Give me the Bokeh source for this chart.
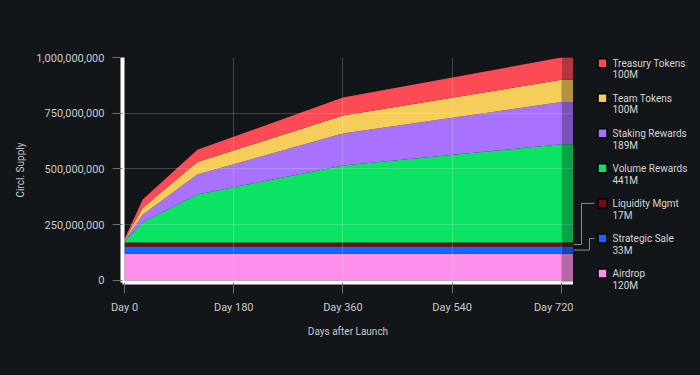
from bokeh.plotting import figure
from bokeh.layouts import row
from bokeh.models import (ColumnDataSource, Range1d, FixedTicker, NumeralTickFormatter,
                          BoxAnnotation)
from bokeh.core.properties import value
from bokeh.embed import file_html
from bokeh.resources import INLINE

# ---------------- data ----------------
days = [0, 30, 120, 360, 720, 740]
airdrop = [120e6, 120e6, 120e6, 120e6, 120e6, 120e6]
strategic_sale = [33e6, 33e6, 33e6, 33e6, 33e6, 33e6]
liquidity_mgmt = [17e6, 17e6, 17e6, 17e6, 17e6, 17e6]
volume_rewards = [4e6, 91e6, 216e6, 346e6, 441e6, 441e6]
staking_rewards = [4e6, 34e6, 89e6, 143e6, 189e6, 189e6]
team_tokens = [4e6, 31e6, 56e6, 81e6, 100e6, 100e6]
treasury_tokens = [4e6, 37e6, 55e6, 81e6, 100e6, 100e6]
full_unlock_day = 720

series_names = ["Airdrop", "Strategic Sale", "Liquidity Mgmt", "Volume Rewards",
                "Staking Rewards", "Team Tokens", "Treasury Tokens"]
series_values = [airdrop, strategic_sale, liquidity_mgmt, volume_rewards,
                 staking_rewards, team_tokens, treasury_tokens]
series_colors = ["#ff8fea", "#1565ff", "#7a0c10", "#0be463",
                 "#a872ff", "#f5cd5b", "#fd4b55"]
x_ticks = [0, 180, 360, 540, 720]
y_ticks = [0, 250e6, 500e6, 750e6, 1000e6]
leader_series = ["Liquidity Mgmt", "Strategic Sale"]

# ---------------- style / layout ----------------
BG = "#131619"
TXT = "#c8c9ca"
FONT = "Roboto"
FS = "11px"
FS_LABEL = "10px"
FR_LEFT = 122
FR_TOP = 57
FR_BOTTOM_MARGIN = 68
FR_H = 225
H = FR_TOP + FR_H + FR_BOTTOM_MARGIN
W1 = 573
W2 = 127
YMAX = y_ticks[-1]
YS, YE = -9e6, YMAX

keys = ["s%d" % i for i in range(len(series_names))]
data = {"day": days}
for k, v in zip(keys, series_values):
    data[k] = v
source = ColumnDataSource(data)

p = figure(width=W1, height=H, output_backend="svg", toolbar_location=None,
           x_range=Range1d(-3.3, days[-1]), y_range=Range1d(YS, YE),
           min_border_left=FR_LEFT, min_border_right=0, min_border_top=FR_TOP,
           min_border_bottom=FR_BOTTOM_MARGIN)
p.background_fill_color = BG
p.border_fill_color = BG
p.outline_line_color = None

p.varea_stack(stackers=keys, x="day", color=series_colors, source=source)

p.add_layout(BoxAnnotation(left=full_unlock_day, right=days[-1],
                           fill_color="black", fill_alpha=0.28, line_color=None))

p.xaxis.ticker = FixedTicker(ticks=x_ticks)
p.xaxis.major_label_overrides = {t: "Day %d" % t for t in x_ticks}
p.yaxis.ticker = FixedTicker(ticks=y_ticks)
p.yaxis.formatter = NumeralTickFormatter(format="0,0")
p.xgrid.ticker = FixedTicker(ticks=x_ticks[1:])
p.ygrid.ticker = FixedTicker(ticks=y_ticks[1:])
p.grid.grid_line_color = "white"
p.grid.grid_line_alpha = 0.2
p.grid.level = "annotation"

for ax in (p.xaxis, p.yaxis):
    ax.axis_line_color = "white"
    ax.axis_line_width = 4
    ax.major_tick_line_color = "#6a6d70"
    ax.minor_tick_line_color = None
    ax.major_tick_in = 0
    ax.major_label_text_color = TXT
    ax.major_label_text_font = FONT
    ax.major_label_text_font_size = FS
    ax.axis_label_text_color = TXT
    ax.axis_label_text_font = FONT
    ax.axis_label_text_font_size = FS_LABEL
    ax.axis_label_text_font_style = "normal"

p.xaxis.axis_label = "Days after Launch"
p.yaxis.axis_label = "Circl. Supply"
p.xaxis.major_tick_out = 11
p.yaxis.major_tick_out = 10
p.xaxis.major_label_standoff = 7
p.yaxis.major_label_standoff = 8
p.xaxis.axis_label_standoff = 9
p.yaxis.axis_label_standoff = 7

# ---------------- legend panel ----------------
def px_to_supply(py):
    return YS + (FR_TOP + FR_H - py) / FR_H * (YE - YS)

lg = figure(width=W2, height=H, output_backend="svg", toolbar_location=None,
            x_range=Range1d(0, W2), y_range=Range1d(px_to_supply(H), px_to_supply(0)),
            min_border_left=0, min_border_right=0, min_border_top=0,
            min_border_bottom=0)
p.frame_align = False
lg.frame_align = False
lg.background_fill_color = BG
lg.border_fill_color = BG
lg.outline_line_color = None
lg.axis.visible = False
lg.grid.visible = False

ITEM_Y0 = 62.7
ITEM_DY = 35.05
SQ_X = 29
TX_X = 39
order = list(range(len(series_names)))[::-1]
item_y = {}
rows = {"sx": [], "sy": [], "sc": [], "tx": [], "ty": [], "t": []}
for j, i in enumerate(order):
    y = ITEM_Y0 + j * ITEM_DY
    item_y[series_names[i]] = y
    rows["sx"].append(SQ_X)
    rows["sy"].append(px_to_supply(y))
    rows["sc"].append(series_colors[i])
    rows["tx"] += [TX_X, TX_X]
    rows["ty"] += [px_to_supply(y), px_to_supply(y + 11.7)]
    rows["t"] += [series_names[i], "%dM" % round(series_values[i][-1] / 1e6)]

lg.scatter(x=rows["sx"], y=rows["sy"], marker="square", size=9,
           fill_color=rows["sc"], line_color="black", line_width=1.5)
lg.text(x=rows["tx"], y=rows["ty"], text=rows["t"], text_font=value(FONT),
        text_font_size=FS_LABEL, text_color="#d4d5d6", text_baseline="middle")

# leader lines from thin bands to legend entries
elbows = {"Liquidity Mgmt": 8, "Strategic Sale": 16}
xs, ys = [], []
for nm in leader_series:
    i = series_names.index(nm)
    below = sum(series_values[k][-1] for k in range(i))
    mid = below + series_values[i][-1] / 2
    yl = px_to_supply(item_y[nm])
    ex = elbows[nm]
    xs.append([21, ex, ex, 0])
    ys.append([yl, yl, mid, mid])
lg.multi_line(xs=xs, ys=ys, line_color="#8a8c8e", line_width=1)

layout = row(p, lg)
html = file_html(layout, INLINE)
html = html.replace("</head>", "<style>html, body {background-color: %s;}</style></head>" % BG, 1)
open("out.html", "w").write(html)
